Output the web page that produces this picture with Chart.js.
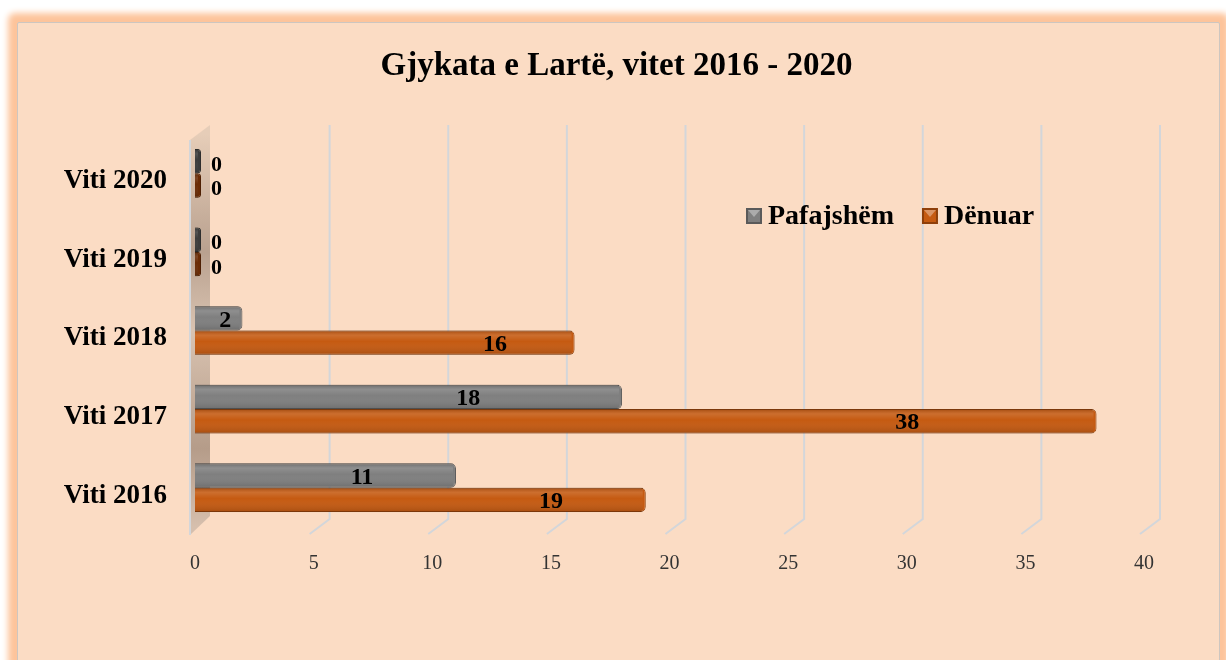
<!DOCTYPE html>
<html>
<head>
<meta charset="utf-8">
<title>Gjykata e Lartë</title>
<script src="https://cdn.jsdelivr.net/npm/chart.js@4.4.0/dist/chart.umd.min.js"></script>
<style>
html, body { margin: 0; padding: 0; background: #fff; width: 1226px; height: 660px; overflow: hidden; }
#frame {
    position: absolute; left: 17px; top: 22px; width: 1201px; height: 680px;
    background: #FBDCC4; border: 1px solid #CDC6C0; border-radius: 2px;
    box-shadow: 0 0 6px 9px #FDC49B;
}
#box { position: absolute; left: 0; top: 0; width: 1201px; height: 637px; }
</style>
</head>
<body>
<div id="frame"><div id="box"><canvas id="chart"></canvas></div></div>
<script>
var categories = ['Viti 2020', 'Viti 2019', 'Viti 2018', 'Viti 2017', 'Viti 2016'];
var pafajshem = [0, 0, 2, 18, 11];
var denuar = [0, 0, 16, 38, 19];
var xMin = 0, xMax = 40, xStep = 5;
var titleText = 'Gjykata e Lartë, vitet 2016 - 2020';

var serif = "'Liberation Serif', 'Times New Roman', serif";

// title centred on the whole panel
var titlePlugin = {
    id: 'panelTitle',
    afterDraw: function(chart) {
        var c = chart.ctx;
        c.save();
        c.font = 'bold 33px ' + serif;
        c.fillStyle = '#000';
        c.textAlign = 'center';
        c.textBaseline = 'alphabetic';
        c.fillText(titleText, chart.width / 2 - 2, 52);
        c.restore();
    }
};

// back wall + 3d grid lines
var wallPlugin = {
    id: 'wall',
    beforeDatasetsDraw: function(chart) {
        var c = chart.ctx, a = chart.chartArea, x = chart.scales.x;
        var x0 = x.getPixelForValue(0);
        c.save();
        var g = c.createLinearGradient(0, a.top, 0, a.bottom);
        g.addColorStop(0, '#E6CDB8');
        g.addColorStop(0.3, '#B9A18F');
        g.addColorStop(0.5, '#D9C3B1');
        g.addColorStop(0.8, '#B59C89');
        g.addColorStop(1, '#D6BFAD');
        c.fillStyle = g;
        c.beginPath();
        c.moveTo(x0 - 5, a.top + 6);
        c.lineTo(x0 + 15, a.top - 9);
        c.lineTo(x0 + 15, a.bottom - 11);
        c.lineTo(x0 - 5, a.bottom + 8);
        c.closePath();
        c.fill();
        c.strokeStyle = '#D3D6DA';
        c.lineWidth = 2;
        c.beginPath();
        c.moveTo(x0 - 5, a.top + 6);
        c.lineTo(x0 - 5, a.bottom + 8);
        c.stroke();
        for (var v = xMin + xStep; v <= xMax; v += xStep) {
            var px = x.getPixelForValue(v);
            c.beginPath();
            c.moveTo(px + 16, a.top - 9);
            c.lineTo(px + 16, a.bottom - 8);
            c.lineTo(px - 4, a.bottom + 7);
            c.stroke();
        }
        c.restore();
    }
};

// shading on bars and value labels
var labelPlugin = {
    id: 'vals',
    afterDatasetsDraw: function(chart) {
        var c = chart.ctx;
        c.save();
        chart.data.datasets.forEach(function(ds, di) {
            var meta = chart.getDatasetMeta(di);
            meta.data.forEach(function(el, i) {
                var top = el.y - el.height / 2;
                var sh = c.createLinearGradient(0, top, 0, top + el.height);
                sh.addColorStop(0, 'rgba(0,0,0,0.18)');
                sh.addColorStop(0.2, 'rgba(255,255,255,0.12)');
                sh.addColorStop(0.45, 'rgba(255,255,255,0)');
                sh.addColorStop(1, 'rgba(0,0,0,0.15)');
                c.fillStyle = sh;
                c.fillRect(Math.min(el.base, el.x), top, Math.abs(el.x - el.base) - 3, el.height);

                var v = ds.data[i];
                c.fillStyle = '#000';
                c.font = 'bold 24px ' + serif;
                c.textBaseline = 'middle';
                if (v === 0) {
                    c.font = 'bold 22px ' + serif;
                    c.textAlign = 'left';
                    c.fillText('0', el.x + 10, el.y + 4);
                } else {
                    c.textAlign = 'center';
                    c.fillText(String(v), el.base + (el.x - el.base) * ds.labelAt, el.y + 2);
                }
            });
        });
        c.restore();
    }
};

// legend inside the plot
var legendPlugin = {
    id: 'innerLegend',
    afterDraw: function(chart) {
        var c = chart.ctx;
        var x = 728, y = 193;
        c.save();
        c.font = 'bold 28px ' + serif;
        c.textBaseline = 'middle';
        c.textAlign = 'left';
        chart.data.datasets.forEach(function(ds) {
            c.fillStyle = ds.edge;
            c.fillRect(x, y - 8, 16, 16);
            c.fillStyle = ds.fill;
            c.fillRect(x + 2, y - 6, 12, 12);
            c.fillStyle = 'rgba(255,255,255,0.35)';
            c.beginPath();
            c.moveTo(x + 2, y - 6);
            c.lineTo(x + 14, y - 6);
            c.lineTo(x + 8, y + 1);
            c.closePath();
            c.fill();
            c.fillStyle = '#000';
            c.fillText(ds.label, x + 22, y + 1);
            x += 22 + c.measureText(ds.label).width + 28;
        });
        c.restore();
    }
};

function barColor(normal, zero) {
    return function(context) { return context.raw === 0 ? zero : normal; };
}

var ctx = document.getElementById('chart').getContext('2d');
var chart = new Chart(ctx, {
    type: 'bar',
    data: {
        labels: categories,
        datasets: [{
            label: 'Pafajshëm',
            data: pafajshem,
            fill: '#7F7F7F',
            edge: '#5A5A5A',
            labelAt: 0.64,
            backgroundColor: barColor('#7F7F7F', '#3C3C3C'),
            borderColor: barColor('#5A5A5A', '#2E2E2E'),
            borderWidth: 1,
            borderRadius: { topRight: 5, bottomRight: 5 },
            borderSkipped: 'start',
            minBarLength: 6
        }, {
            label: 'Dënuar',
            data: denuar,
            fill: '#C55A11',
            edge: '#8E3F0A',
            labelAt: 0.79,
            backgroundColor: barColor('#C55A11', '#6B2C06'),
            borderColor: barColor('#8E3F0A', '#4E2004'),
            borderWidth: 1,
            borderRadius: { topRight: 5, bottomRight: 5 },
            borderSkipped: 'start',
            minBarLength: 6
        }]
    },
    options: {
        indexAxis: 'y',
        responsive: true,
        maintainAspectRatio: false,
        animation: false,
        categoryPercentage: 0.62,
        barPercentage: 1,
        layout: { padding: { left: 0, right: 75, top: 111, bottom: 67 } },
        scales: {
            x: {
                min: xMin,
                max: xMax,
                ticks: {
                    stepSize: xStep,
                    padding: 17,
                    color: '#333',
                    font: { family: serif, size: 20 }
                },
                grid: { display: false },
                border: { display: false }
            },
            y: {
                ticks: {
                    padding: 20,
                    labelOffset: 8,
                    color: '#000',
                    font: { family: serif, size: 27, weight: 'bold' }
                },
                grid: { display: false },
                border: { display: false },
                afterFit: function(scale) { scale.width = 177; }
            }
        },
        plugins: {
            legend: { display: false },
            tooltip: { enabled: false },
            title: { display: false }
        }
    },
    plugins: [wallPlugin, labelPlugin, legendPlugin, titlePlugin]
});
</script>
</body>
</html>
